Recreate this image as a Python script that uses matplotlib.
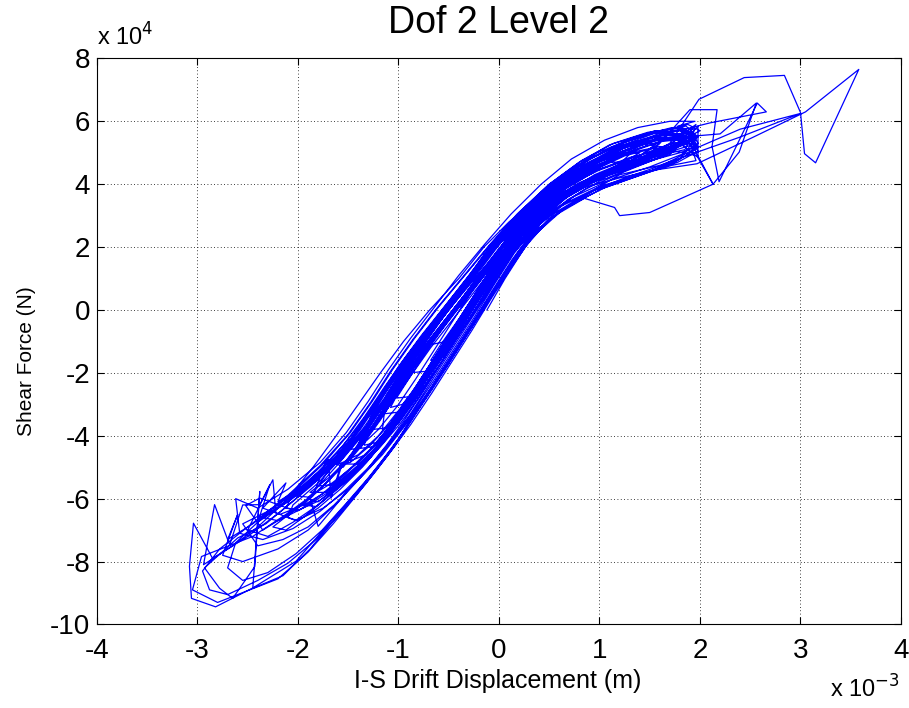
import numpy as np
import matplotlib
matplotlib.use("Agg")
import matplotlib.pyplot as plt

plt.rcParams['font.family'] = ['Liberation Sans', 'DejaVu Sans']

# drift in units of 1e-3 m, shear force in units of 1e4 N
phase_1 = [
    (-0.12, 0.0), (0.06, 1.0), (0.26, 2.0), (0.45, 2.7),
    (0.30, 2.5), (0.04, 1.6), (-0.18, 0.7), (-0.38, -0.2), (-0.58, -1.1), (-0.68, -1.6),
    (-0.56, -1.5), (-0.40, -0.8), (-0.21, 0.1), (-0.04, 0.9), (0.14, 1.8), (0.36, 2.6), (0.60, 3.4), (0.75, 3.8),
    (0.60, 3.7), (0.32, 3.0), (0.05, 2.1), (-0.17, 1.1), (-0.38, 0.2), (-0.60, -0.7), (-0.80, -1.6), (-0.98, -2.5), (-1.08, -3.1),
    (-0.96, -3.0), (-0.78, -2.3), (-0.60, -1.5), (-0.42, -0.6), (-0.24, 0.3), (-0.06, 1.2), (0.11, 2.0), (0.35, 2.9), (0.65, 3.7), (0.95, 4.3), (1.25, 4.7),
    (1.10, 4.7), (0.85, 4.3), (0.55, 3.6), (0.26, 2.8), (0.00, 1.9), (-0.22, 1.0), (-0.42, 0.1), (-0.62, -0.8), (-0.82, -1.7), (-1.00, -2.6), (-1.18, -3.5), (-1.36, -4.3), (-1.52, -4.9),
    (-1.40, -4.9), (-1.20, -4.3), (-1.02, -3.6), (-0.85, -2.8), (-0.66, -1.9), (-0.48, -1.0), (-0.30, -0.1), (-0.12, 0.8), (0.05, 1.6), (0.25, 2.5), (0.50, 3.3), (0.82, 4.0), (1.15, 4.5), (1.50, 4.9), (1.75, 5.1),
    (1.60, 5.2), (1.30, 5.0), (1.00, 4.6), (0.70, 4.0), (0.40, 3.3), (0.14, 2.5), (-0.08, 1.6), (-0.28, 0.7), (-0.50, -0.2), (-0.72, -1.1), (-0.92, -2.0), (-1.10, -2.9), (-1.28, -3.8), (-1.46, -4.6), (-1.68, -5.3), (-1.88, -5.8),
    (-1.72, -5.8), (-1.50, -5.2), (-1.28, -4.6), (-1.08, -3.9), (-0.90, -3.1), (-0.72, -2.2), (-0.55, -1.3), (-0.36, -0.4), (-0.18, 0.5), (0.00, 1.4), (0.20, 2.3), (0.45, 3.1), (0.75, 3.8), (1.10, 4.3), (1.45, 4.7), (1.80, 5.0), (1.97, 5.2),
]

phase_1b = [
    (1.88, 5.45), (1.60, 5.35), (1.30, 5.05), (0.98, 4.6), (0.66, 4.0), (0.36, 3.2), (0.10, 2.3), (-0.12, 1.4), (-0.34, 0.5), (-0.56, -0.4), (-0.78, -1.3), (-0.98, -2.2), (-1.16, -3.1), (-1.36, -4.0), (-1.60, -4.9), (-1.72, -4.8), (-1.85, -5.9), (-1.95, -6.2),
    (-1.82, -6.25), (-1.62, -5.7), (-1.40, -5.05), (-1.18, -4.35), (-0.98, -3.6), (-0.80, -2.8), (-0.62, -1.9), (-0.44, -1.0), (-0.26, -0.1), (-0.08, 0.8), (0.10, 1.7), (0.30, 2.6), (0.58, 3.4), (0.92, 4.05), (1.28, 4.55), (1.62, 4.95), (1.92, 5.25),
    (1.80, 5.6), (1.52, 5.5), (1.20, 5.15), (0.88, 4.65), (0.56, 3.95), (0.26, 3.1), (0.00, 2.2), (-0.22, 1.3), (-0.44, 0.4), (-0.66, -0.5), (-0.88, -1.4), (-1.08, -2.3), (-1.26, -3.2), (-1.46, -4.1), (-1.70, -5.0), (-1.62, -4.75), (-1.80, -5.6),
    (-1.66, -5.55), (-1.45, -4.95), (-1.24, -4.3), (-1.04, -3.55), (-0.86, -2.75), (-0.68, -1.85), (-0.50, -0.95), (-0.32, -0.05), (-0.14, 0.85), (0.05, 1.75), (0.26, 2.65), (0.55, 3.45), (0.90, 4.1), (1.25, 4.55), (1.58, 4.9), (1.85, 5.1), (1.95, 5.75),
    (1.72, 5.8), (1.42, 5.55), (1.10, 5.15), (0.78, 4.55), (0.48, 3.8), (0.20, 2.95), (-0.04, 2.0), (-0.26, 1.05), (-0.48, 0.1), (-0.70, -0.85), (-0.92, -1.8), (-1.12, -2.75), (-1.32, -3.7), (-1.56, -4.6), (-1.84, -5.45), (-2.15, -6.2), (-2.40, -6.75), (-2.28, -5.55), (-2.50, -7.0),
    (-2.30, -7.2), (-2.05, -6.75), (-1.80, -6.2), (-1.56, -5.55), (-1.34, -4.85), (-1.14, -4.1), (-0.95, -3.3), (-0.77, -2.4), (-0.59, -1.5), (-0.41, -0.6), (-0.23, 0.3), (-0.05, 1.2), (0.14, 2.1), (0.38, 3.0), (0.70, 3.75), (1.06, 4.3), (1.42, 4.75), (1.75, 5.2), (1.98, 5.5),
    (1.86, 5.85), (1.55, 5.65), (1.22, 5.3), (0.90, 4.8), (0.58, 4.1), (0.28, 3.25), (0.02, 2.35), (-0.20, 1.45), (-0.42, 0.55), (-0.64, -0.35), (-0.86, -1.25), (-1.06, -2.15), (-1.25, -3.05), (-1.44, -3.95), (-1.52, -4.45),
    (-1.40, -4.4), (-1.20, -3.8), (-1.01, -3.05), (-0.83, -2.2), (-0.65, -1.3), (-0.47, -0.4), (-0.29, 0.5), (-0.11, 1.4), (0.08, 2.3), (0.32, 3.15), (0.64, 3.9), (1.00, 4.45), (1.38, 4.9), (1.72, 5.3), (1.96, 5.4),
    (1.82, 5.75), (1.50, 5.6), (1.18, 5.25), (0.86, 4.75), (0.54, 4.05), (0.24, 3.2), (-0.02, 2.3), (-0.24, 1.35), (-0.47, 0.4), (-0.70, -0.55), (-0.93, -1.5), (-1.14, -2.45), (-1.34, -3.4), (-1.55, -4.3), (-1.80, -5.15), (-2.05, -5.85), (-2.12, -6.3),
    (-1.98, -6.35), (-1.76, -5.85), (-1.52, -5.2), (-1.30, -4.5), (-1.10, -3.75), (-0.91, -2.95), (-0.73, -2.05), (-0.55, -1.15), (-0.37, -0.25), (-0.19, 0.65), (-0.01, 1.55), (0.19, 2.45), (0.46, 3.3), (0.80, 4.0), (1.16, 4.5), (1.45, 5.45), (1.62, 4.95), (1.85, 5.7), (1.97, 5.2),
]

phase_2 = [
    (1.92, 5.6), (1.70, 5.5), (1.40, 5.3), (1.10, 5.0), (0.80, 4.5), (0.50, 3.8), (0.22, 3.0), (-0.02, 2.1), (-0.24, 1.2), (-0.46, 0.2), (-0.68, -0.8), (-0.90, -1.8), (-1.10, -2.8), (-1.30, -3.8), (-1.52, -4.8), (-1.78, -5.7), (-2.05, -6.4), (-2.25, -6.9),
    (-2.12, -7.0), (-1.95, -6.6), (-1.72, -6.0), (-1.50, -5.4), (-1.28, -4.7), (-1.08, -3.9), (-0.90, -3.1), (-0.72, -2.2), (-0.54, -1.3), (-0.36, -0.3), (-0.18, 0.6), (0.02, 1.5), (0.22, 2.4), (0.48, 3.2), (0.80, 3.9), (1.15, 4.4), (1.50, 4.8), (1.75, 5.4), (1.96, 5.9),
    (1.85, 5.5), (1.62, 5.6), (1.45, 5.2), (1.20, 4.9), (0.90, 4.5), (0.60, 3.9), (0.32, 3.1), (0.06, 2.2), (-0.16, 1.3), (-0.36, 0.4), (-0.58, -0.5), (-0.80, -1.5), (-1.00, -2.4), (-1.18, -3.3), (-1.36, -4.2), (-1.55, -5.0), (-1.70, -4.76), (-1.67, -5.98), (-1.57, -4.87),
    (-1.40, -4.6), (-1.20, -4.0), (-1.00, -3.2), (-0.82, -2.4), (-0.64, -1.5), (-0.46, -0.6), (-0.28, 0.3), (-0.10, 1.2), (0.08, 2.0), (0.30, 2.8), (0.58, 3.5), (0.90, 4.1), (1.25, 4.6), (1.55, 5.0), (1.80, 5.3), (1.98, 4.85),
    (1.90, 5.5), (1.65, 5.4), (1.38, 5.1), (1.08, 4.7), (0.78, 4.2), (0.48, 3.5), (0.22, 2.7), (-0.02, 1.8), (-0.24, 0.9), (-0.46, 0.0), (-0.68, -0.9), (-0.88, -1.9), (-1.06, -2.8), (-1.26, -3.7), (-1.47, -4.6), (-1.72, -5.5), (-1.88, -6.0), (-1.80, -6.88),
    (-1.70, -6.5), (-1.52, -5.8), (-1.32, -5.1), (-1.12, -4.3), (-0.94, -3.5), (-0.76, -2.6), (-0.58, -1.7), (-0.40, -0.8), (-0.22, 0.1), (-0.05, 1.0), (0.14, 1.9), (0.38, 2.8), (0.68, 3.6), (1.02, 4.2), (1.38, 4.6), (1.70, 5.0), (1.85, 5.5),
    (1.70, 5.65), (1.45, 5.45), (1.15, 5.1), (0.85, 4.6), (0.55, 3.9), (0.28, 3.1), (0.03, 2.2), (-0.18, 1.3), (-0.40, 0.4), (-0.62, -0.5), (-0.82, -1.4), (-1.02, -2.3), (-1.20, -3.2), (-1.36, -4.0), (-1.48, -4.8),
    (-1.32, -4.6), (-1.14, -3.9), (-0.96, -3.1), (-0.78, -2.2), (-0.60, -1.3), (-0.42, -0.4), (-0.24, 0.5), (-0.06, 1.4), (0.14, 2.3), (0.40, 3.1), (0.72, 3.8), (1.05, 4.3), (1.35, 4.8), (1.60, 5.3),
    (1.45, 5.3), (1.18, 5.0), (0.88, 4.6), (0.58, 4.0), (0.30, 3.2), (0.04, 2.3), (-0.18, 1.4), (-0.38, 0.5), (-0.60, -0.4), (-0.80, -1.3), (-1.00, -2.2), (-1.18, -3.1), (-1.38, -4.0), (-1.60, -4.9), (-1.85, -5.8), (-1.90, -6.0),
    (-1.80, -6.1), (-1.60, -5.6), (-1.38, -4.9), (-1.18, -4.2), (-1.00, -3.4), (-0.82, -2.5), (-0.64, -1.6), (-0.46, -0.7), (-0.28, 0.2), (-0.10, 1.1), (0.08, 2.0), (0.32, 2.9), (0.62, 3.7), (0.98, 4.3), (1.35, 4.8), (1.70, 5.2), (2.00, 5.7),
    (1.88, 5.9), (1.62, 5.7), (1.32, 5.35), (1.02, 4.9), (0.72, 4.3), (0.42, 3.6), (0.14, 2.8), (-0.10, 1.9), (-0.31, 1.0), (-0.52, 0.1), (-0.73, -0.8), (-0.93, -1.7), (-1.12, -2.6), (-1.28, -3.4), (-1.34, -4.3),
    (-1.20, -4.2), (-1.02, -3.5), (-0.84, -2.7), (-0.66, -1.8), (-0.48, -0.9), (-0.30, 0.0), (-0.12, 0.9), (0.06, 1.8), (0.28, 2.7), (0.56, 3.5), (0.88, 4.1), (1.18, 4.6), (1.40, 5.0),
    (1.25, 5.0), (0.98, 4.7), (0.68, 4.1), (0.38, 3.4), (0.12, 2.6), (-0.12, 1.7), (-0.33, 0.8), (-0.54, -0.1), (-0.75, -1.0), (-0.95, -1.9), (-1.13, -2.8), (-1.32, -3.7), (-1.54, -4.6), (-1.80, -5.5), (-2.05, -6.2), (-2.10, -6.6),
    (-2.00, -6.7), (-1.80, -6.3), (-1.58, -5.7), (-1.36, -5.0), (-1.15, -4.2), (-0.96, -3.4), (-0.78, -2.5), (-0.60, -1.6), (-0.42, -0.7), (-0.24, 0.2), (-0.06, 1.1), (0.12, 2.0), (0.36, 2.9), (0.66, 3.7), (1.00, 4.3), (1.35, 4.75), (1.68, 5.1), (1.90, 5.3),
    (1.78, 5.5), (1.52, 5.35), (1.22, 5.0), (0.92, 4.5), (0.62, 3.9), (0.34, 3.1), (0.08, 2.2), (-0.14, 1.3), (-0.35, 0.4), (-0.56, -0.5), (-0.76, -1.4), (-0.96, -2.3), (-1.15, -3.2), (-1.34, -4.1), (-1.57, -5.0), (-1.62, -5.5),
    (-1.50, -5.3), (-1.32, -4.7), (-1.12, -4.0), (-0.94, -3.2), (-0.76, -2.3), (-0.58, -1.4), (-0.40, -0.5), (-0.22, 0.4), (-0.04, 1.3), (0.16, 2.2), (0.42, 3.0), (0.74, 3.8), (1.08, 4.4), (1.40, 4.9), (1.70, 5.6),
    (1.55, 5.7), (1.28, 5.4), (0.98, 5.0), (0.68, 4.4), (0.38, 3.6), (0.10, 2.7), (-0.14, 1.8), (-0.34, 0.9), (-0.54, 0.0), (-0.74, -0.9), (-0.94, -1.8), (-1.12, -2.7), (-1.16, -3.8),
]

phase_3 = [
    (-1.00, -3.6), (-0.84, -2.9), (-0.66, -2.0), (-0.48, -1.1), (-0.30, -0.2), (-0.12, 0.7), (0.06, 1.6), (0.26, 2.5), (0.52, 3.3), (0.84, 4.0), (1.18, 4.5), (1.50, 4.95), (1.90, 6.37), (2.17, 6.37), (2.12, 5.2), (2.19, 4.08), (2.57, 6.58), (2.66, 6.30),
    (2.10, 5.95), (1.60, 5.55), (1.20, 5.2), (0.80, 4.55), (0.40, 3.6), (0.10, 2.8), (-0.15, 2.0), (-0.40, 1.0), (-0.69, 0.0), (-0.95, -1.0), (-1.18, -2.0), (-1.40, -3.0), (-1.62, -4.0), (-1.85, -5.0), (-2.10, -6.0), (-2.40, -6.9), (-2.65, -7.5), (-2.94, -8.1), (-2.83, -6.19), (-2.68, -7.47), (-2.55, -6.2), (-2.38, -6.19), (-2.25, -5.40), (-2.22, -6.45),
    (-2.02, -6.7), (-1.75, -6.3), (-1.50, -5.7), (-1.28, -5.0), (-1.08, -4.2), (-0.90, -3.4), (-0.72, -2.5), (-0.54, -1.6), (-0.36, -0.7), (-0.18, 0.2), (0.00, 1.1), (0.18, 2.0), (0.42, 2.9), (0.72, 3.7), (1.05, 4.3), (1.40, 4.8), (1.70, 5.3), (1.99, 6.70), (2.44, 7.39), (2.84, 7.46), (3.00, 6.28), (3.04, 4.97), (3.15, 4.68), (3.58, 7.65),
    (3.05, 6.30), (2.50, 5.45), (1.97, 4.65), (1.55, 4.45), (1.20, 4.2), (0.85, 3.9), (0.52, 3.3), (0.22, 2.5), (-0.04, 1.6), (-0.26, 0.7), (-0.48, -0.2), (-0.70, -1.1), (-0.92, -2.0), (-1.12, -2.9), (-1.34, -3.8), (-1.58, -4.7), (-1.87, -5.6), (-2.17, -6.4), (-2.50, -7.2), (-2.85, -7.9), (-3.04, -6.78), (-3.08, -8.15), (-3.06, -9.17), (-2.82, -9.44),
    (-2.45, -8.84), (-2.02, -7.99), (-1.75, -7.0), (-1.50, -6.1), (-1.28, -5.3), (-1.08, -4.5), (-0.90, -3.6), (-0.72, -2.7), (-0.54, -1.8), (-0.36, -0.9), (-0.18, 0.0), (0.00, 0.9), (0.18, 1.8), (0.40, 2.7), (0.68, 3.5), (1.00, 4.1), (1.35, 4.55), (1.70, 4.95), (1.98, 5.84), (1.98, 4.84), (2.13, 4.00), (2.39, 5.02), (2.56, 6.58),
    (2.20, 5.60), (1.60, 5.44), (1.20, 5.0), (0.90, 4.55), (0.60, 3.95), (0.30, 3.15), (0.02, 2.25), (-0.22, 1.35), (-0.44, 0.45), (-0.66, -0.45), (-0.88, -1.35), (-1.08, -2.25), (-1.26, -3.15), (-1.46, -4.05), (-1.70, -4.95), (-2.02, -6.0), (-2.32, -6.8), (-2.60, -7.25), (-2.93, -8.20), (-2.78, -8.85), (-2.65, -9.17), (-2.43, -8.16), (-2.38, -5.77), (-2.45, -8.85),
    (-2.15, -8.45), (-1.88, -7.6), (-1.62, -6.6), (-1.40, -5.75), (-1.20, -4.95), (-1.00, -4.1), (-0.82, -3.2), (-0.64, -2.3), (-0.46, -1.4), (-0.28, -0.5), (-0.10, 0.4), (0.08, 1.3), (0.28, 2.2), (0.56, 3.1), (0.90, 3.75), (1.25, 4.2), (1.62, 4.6), (2.00, 5.2), (2.40, 5.75), (3.00, 6.25),
    (2.40, 5.50), (1.60, 4.60), (1.20, 4.30), (0.87, 3.68), (0.55, 3.2), (0.24, 2.4), (-0.02, 1.5), (-0.24, 0.6), (-0.46, -0.3), (-0.68, -1.2), (-0.88, -2.1), (-1.08, -3.0), (-1.28, -3.9), (-1.50, -4.8), (-1.78, -5.7), (-2.12, -6.5), (-2.45, -7.2), (-2.96, -7.84), (-3.05, -8.9), (-2.80, -9.30), (-2.20, -8.55),
    (-1.90, -7.7), (-1.65, -6.8), (-1.42, -5.9), (-1.22, -5.1), (-1.03, -4.3), (-0.85, -3.4), (-0.67, -2.5), (-0.49, -1.6), (-0.31, -0.7), (-0.13, 0.2), (0.05, 1.1), (0.24, 2.0), (0.50, 2.9), (0.85, 3.55), (1.15, 3.26), (1.20, 3.00), (1.50, 3.10), (2.13, 4.00), (1.98, 4.90), (1.75, 5.05),
    (1.45, 4.85), (1.15, 4.5), (0.85, 4.0), (0.55, 3.4), (0.26, 2.6), (0.00, 1.7), (-0.22, 0.8), (-0.44, -0.1), (-0.66, -1.0), (-0.86, -1.9), (-1.05, -2.8), (-1.25, -3.7), (-1.46, -4.6), (-1.72, -5.5), (-2.00, -6.3), (-2.35, -7.0), (-2.52, -6.22), (-2.38, -5.98), (-2.02, -6.4),
    (-1.78, -6.05), (-1.55, -5.5), (-1.32, -4.85), (-1.12, -4.1), (-0.94, -3.3), (-0.76, -2.4), (-0.58, -1.5), (-0.40, -0.6), (-0.22, 0.3), (-0.04, 1.2), (0.15, 2.1), (0.40, 3.0), (0.72, 3.75), (1.08, 4.35), (1.45, 4.8), (1.82, 5.3), (1.97, 5.5),
]

phase_3b = [
    (1.80, 5.7), (1.45, 5.6), (1.10, 5.25), (0.80, 4.7), (0.50, 4.0), (0.20, 3.1), (-0.08, 2.1), (-0.34, 1.1), (-0.60, 0.1), (-0.84, -0.9), (-1.06, -1.9), (-1.26, -2.9), (-1.48, -3.9), (-1.75, -4.9), (-2.08, -5.9), (-2.45, -6.8), (-2.70, -7.3), (-2.60, -6.5), (-2.75, -7.8),
    (-2.55, -8.0), (-2.20, -7.6), (-1.90, -7.0), (-1.60, -6.1), (-1.34, -5.2), (-1.10, -4.3), (-0.88, -3.4), (-0.66, -2.4), (-0.46, -1.4), (-0.26, -0.4), (-0.07, 0.6), (0.13, 1.6), (0.36, 2.6), (0.66, 3.4), (1.02, 3.95), (1.40, 4.3), (1.75, 4.7), (1.95, 5.1),
    (1.85, 5.45), (1.55, 5.5), (1.22, 5.25), (0.90, 4.8), (0.58, 4.1), (0.27, 3.2), (-0.01, 2.2), (-0.27, 1.2), (-0.52, 0.2), (-0.77, -0.8), (-1.00, -1.8), (-1.20, -2.8), (-1.42, -3.8), (-1.68, -4.8), (-1.98, -5.7), (-2.30, -6.4), (-2.55, -6.8), (-2.40, -7.5), (-2.15, -7.3),
    (-1.90, -6.9), (-1.64, -6.2), (-1.40, -5.4), (-1.16, -4.6), (-0.94, -3.7), (-0.73, -2.8), (-0.52, -1.8), (-0.32, -0.8), (-0.12, 0.2), (0.08, 1.2), (0.30, 2.2), (0.58, 3.1), (0.95, 3.8), (1.35, 4.25), (1.72, 4.6), (1.96, 4.75),
    (1.90, 5.3), (1.62, 5.1), (1.30, 4.85), (0.98, 4.45), (0.66, 3.85), (0.34, 3.0), (0.06, 2.1), (-0.20, 1.15), (-0.45, 0.2), (-0.70, -0.8), (-0.93, -1.8), (-1.14, -2.8), (-1.36, -3.8), (-1.60, -4.7), (-1.90, -5.5), (-2.20, -6.1), (-2.12, -5.5), (-2.35, -6.3),
    (-2.18, -6.5), (-1.94, -6.2), (-1.68, -5.7), (-1.44, -5.1), (-1.22, -4.4), (-1.01, -3.6), (-0.80, -2.7), (-0.60, -1.8), (-0.40, -0.8), (-0.20, 0.2), (0.00, 1.2), (0.22, 2.2), (0.50, 3.1), (0.86, 3.85), (1.25, 4.4), (1.60, 4.85), (1.88, 5.35), (1.78, 5.85), (1.95, 6.0),
    (1.70, 6.0), (1.38, 5.8), (1.05, 5.4), (0.72, 4.8), (0.42, 4.0), (0.12, 3.05), (-0.14, 2.1), (-0.40, 1.1), (-0.64, 0.1), (-0.88, -0.9), (-1.10, -1.9), (-1.30, -2.9), (-1.52, -3.9), (-1.78, -4.85), (-2.10, -5.7), (-2.40, -6.3), (-2.62, -6.0), (-2.58, -7.1),
    (-2.35, -7.3), (-2.05, -6.95), (-1.78, -6.4), (-1.52, -5.7), (-1.28, -4.95), (-1.06, -4.1), (-0.85, -3.2), (-0.64, -2.2), (-0.44, -1.2), (-0.24, -0.2), (-0.05, 0.8), (0.15, 1.8), (0.40, 2.8), (0.74, 3.6), (1.12, 4.15), (1.50, 4.55), (1.82, 4.95), (1.98, 5.3),
    (1.92, 5.65), (1.60, 5.55), (1.28, 5.2), (0.95, 4.7), (0.62, 4.0), (0.30, 3.1), (0.02, 2.15), (-0.24, 1.2), (-0.49, 0.2), (-0.73, -0.8), (-0.96, -1.8), (-1.17, -2.8), (-1.38, -3.8), (-1.62, -4.75), (-1.92, -5.6), (-2.05, -5.9),
    (-1.90, -5.95), (-1.66, -5.5), (-1.42, -4.9), (-1.20, -4.2), (-0.99, -3.4), (-0.79, -2.5), (-0.59, -1.6), (-0.40, -0.7), (-0.21, 0.3), (-0.02, 1.3), (0.19, 2.3), (0.46, 3.15), (0.82, 3.9), (1.20, 4.45), (1.56, 4.9), (1.85, 5.3), (1.97, 5.5),
]

phase_3c = [
    (1.82, 5.8), (1.48, 5.65), (1.14, 5.3), (0.82, 4.75), (0.50, 4.0), (0.18, 3.05), (-0.10, 2.05), (-0.36, 1.05), (-0.62, 0.05), (-0.86, -0.95), (-1.08, -1.95), (-1.28, -2.95), (-1.50, -3.95), (-1.78, -4.95), (-2.12, -5.95), (-2.48, -6.85), (-2.78, -7.6), (-2.95, -8.3), (-2.88, -8.9), (-2.70, -9.05),
    (-2.40, -8.6), (-2.10, -8.05), (-1.82, -7.3), (-1.56, -6.4), (-1.32, -5.5), (-1.10, -4.6), (-0.88, -3.65), (-0.67, -2.65), (-0.47, -1.65), (-0.27, -0.65), (-0.08, 0.35), (0.12, 1.35), (0.34, 2.35), (0.64, 3.2), (1.02, 3.85), (1.42, 4.3), (1.78, 4.7), (1.98, 5.05),
    (1.88, 5.5), (1.56, 5.45), (1.24, 5.15), (0.92, 4.7), (0.60, 4.0), (0.28, 3.1), (0.00, 2.15), (-0.26, 1.2), (-0.51, 0.2), (-0.76, -0.8), (-0.99, -1.8), (-1.19, -2.8), (-1.40, -3.8), (-1.66, -4.8), (-1.98, -5.75), (-2.35, -6.6), (-2.62, -7.4), (-2.70, -8.2), (-2.55, -8.6),
    (-2.30, -8.35), (-2.02, -7.75), (-1.76, -7.0), (-1.52, -6.15), (-1.29, -5.3), (-1.08, -4.45), (-0.87, -3.5), (-0.66, -2.5), (-0.46, -1.5), (-0.26, -0.5), (-0.07, 0.5), (0.13, 1.5), (0.36, 2.5), (0.68, 3.3), (1.06, 3.9), (1.46, 4.35), (1.80, 4.8), (1.97, 5.5),
]

phase_4 = [
    (1.85, 5.75), (1.58, 5.6), (1.28, 5.2), (0.98, 4.75), (0.68, 4.15), (0.36, 3.4), (0.09, 2.55), (-0.14, 1.65), (-0.35, 0.75), (-0.56, -0.15), (-0.77, -1.05), (-0.97, -1.95), (-1.14, -2.85), (-1.32, -3.75), (-1.54, -4.6), (-1.80, -5.4), (-2.10, -6.1), (-2.35, -6.6),
    (-2.20, -6.7), (-1.95, -6.3), (-1.70, -5.8), (-1.46, -5.2), (-1.24, -4.5), (-1.04, -3.7), (-0.86, -2.9), (-0.68, -2.0), (-0.50, -1.1), (-0.32, -0.2), (-0.14, 0.7), (0.04, 1.6), (0.24, 2.5), (0.52, 3.3), (0.86, 4.0), (1.22, 4.5), (1.55, 4.9), (1.82, 5.35),
    (1.65, 5.5), (1.38, 5.25), (1.08, 4.85), (0.78, 4.3), (0.48, 3.6), (0.20, 2.8), (-0.05, 1.9), (-0.27, 1.0), (-0.48, 0.1), (-0.69, -0.8), (-0.89, -1.7), (-1.07, -2.6), (-1.26, -3.5), (-1.45, -4.3), (-1.62, -4.9),
    (-1.48, -4.85), (-1.28, -4.3), (-1.08, -3.6), (-0.90, -2.8), (-0.72, -1.9), (-0.54, -1.0), (-0.36, -0.1), (-0.18, 0.8), (0.00, 1.7), (0.20, 2.6), (0.46, 3.4), (0.80, 4.05), (1.15, 4.5), (1.45, 4.85), (1.72, 5.05),
    (1.55, 5.15), (1.25, 4.9), (0.95, 4.45), (0.65, 3.85), (0.34, 3.1), (0.08, 2.2), (-0.14, 1.3), (-0.35, 0.4), (-0.56, -0.5), (-0.76, -1.4), (-0.96, -2.3), (-1.14, -3.2), (-1.30, -4.0), (-1.38, -4.4),
    (-1.25, -4.35), (-1.06, -3.7), (-0.88, -2.9), (-0.70, -2.0), (-0.52, -1.1), (-0.34, -0.2), (-0.16, 0.7), (0.02, 1.6), (0.22, 2.5), (0.48, 3.3), (0.80, 3.95), (1.12, 4.4), (1.40, 4.7),
    (1.25, 4.75), (0.98, 4.45), (0.68, 3.9), (0.38, 3.2), (0.12, 2.4), (-0.10, 1.5), (-0.31, 0.6), (-0.52, -0.3), (-0.73, -1.2), (-0.93, -2.1), (-1.11, -3.0), (-1.26, -3.8),
    (-1.12, -3.75), (-0.95, -3.1), (-0.77, -2.3), (-0.59, -1.4), (-0.41, -0.5), (-0.23, 0.4), (-0.05, 1.3), (0.14, 2.2), (0.38, 3.0), (0.68, 3.7), (1.00, 4.2), (1.20, 4.45),
    (1.05, 4.4), (0.78, 4.0), (0.48, 3.4), (0.20, 2.6), (-0.04, 1.7), (-0.25, 0.8), (-0.46, -0.1), (-0.67, -1.0), (-0.87, -1.9), (-1.05, -2.8), (-1.14, -3.3),
    (-1.00, -3.25), (-0.83, -2.6), (-0.65, -1.7), (-0.47, -0.8), (-0.29, 0.1), (-0.11, 1.0), (0.07, 1.9), (0.30, 2.8), (0.58, 3.5), (0.88, 4.0), (1.05, 4.2),
    (0.92, 4.15), (0.64, 3.7), (0.36, 3.0), (0.10, 2.2), (-0.12, 1.3), (-0.33, 0.4), (-0.54, -0.5), (-0.74, -1.4), (-0.92, -2.3), (-1.02, -2.8),
    (-0.86, -2.75), (-0.70, -2.1), (-0.52, -1.2), (-0.34, -0.3), (-0.16, 0.6), (0.02, 1.5), (0.22, 2.4), (0.46, 3.2), (0.74, 3.8), (0.88, 4.0),
    (0.74, 3.9), (0.48, 3.4), (0.22, 2.7), (-0.01, 1.9), (-0.22, 1.0), (-0.43, 0.1), (-0.64, -0.8), (-0.82, -1.6), (-0.90, -2.0),
    (-0.72, -1.95), (-0.55, -1.3), (-0.37, -0.4), (-0.19, 0.5), (-0.01, 1.4), (0.18, 2.3), (0.42, 3.1), (0.62, 3.5),
    (0.48, 3.3), (0.22, 2.6), (-0.02, 1.8), (-0.23, 0.9), (-0.44, 0.0), (-0.60, -0.7), (-0.68, -1.1),
    (-0.52, -1.0), (-0.35, -0.3), (-0.18, 0.5), (0.00, 1.3), (0.18, 2.1), (0.36, 2.7),
    (0.22, 2.45), (-0.02, 1.6), (-0.24, 0.7), (-0.38, 0.1),
]

x_ticks = [-4, -3, -2, -1, 0, 1, 2, 3, 4]
y_ticks = [-10, -8, -6, -4, -2, 0, 2, 4, 6, 8]

path = np.array(phase_1 + phase_1b + phase_2 + phase_3 + phase_3b + phase_3c + phase_4)
drift = path[:, 0]
force = path[:, 1]

fig = plt.figure(figsize=(9.09, 7.08), dpi=100)
ax = fig.add_axes([0.1067, 0.118, 0.8845, 0.7995])

ax.plot(drift, force, color='#0000ff', linewidth=0.9)

ax.set_xlim(-4, 4)
ax.set_ylim(-10, 8)
ax.set_xticks(x_ticks)
ax.set_yticks(y_ticks)
ax.set_xticklabels([str(t) for t in x_ticks])
ax.set_yticklabels([str(t) for t in y_ticks])

ax.grid(True, color='black', linestyle=(0, (1, 3)), linewidth=0.6)
ax.tick_params(direction='in', length=5, width=0.8, top=True, right=True, labelsize=20)
ax.tick_params(axis='x', pad=10)
ax.tick_params(axis='y', pad=5)
for s in ax.spines.values():
    s.set_linewidth(0.8)

ax.set_title("Dof 2 Level 2", fontsize=27, pad=18)

# axis labels placed where the reference has them
fig.text(498 / 909, 1 - 688 / 708, "I-S Drift Displacement (m)", fontsize=18,
         ha='center', va='baseline')
fig.text(27 / 909, 1 - 361 / 708, "Shear Force (N)", fontsize=15,
         ha='center', va='center', rotation=90)

fig.text(0.107, 0.929, r"x 10$^{4}$", fontsize=17, ha='left', va='bottom')
fig.text(0.913, 0.008, r"x 10$^{-3}$", fontsize=17, ha='left', va='bottom')

fig.savefig("out.png", dpi=100)
